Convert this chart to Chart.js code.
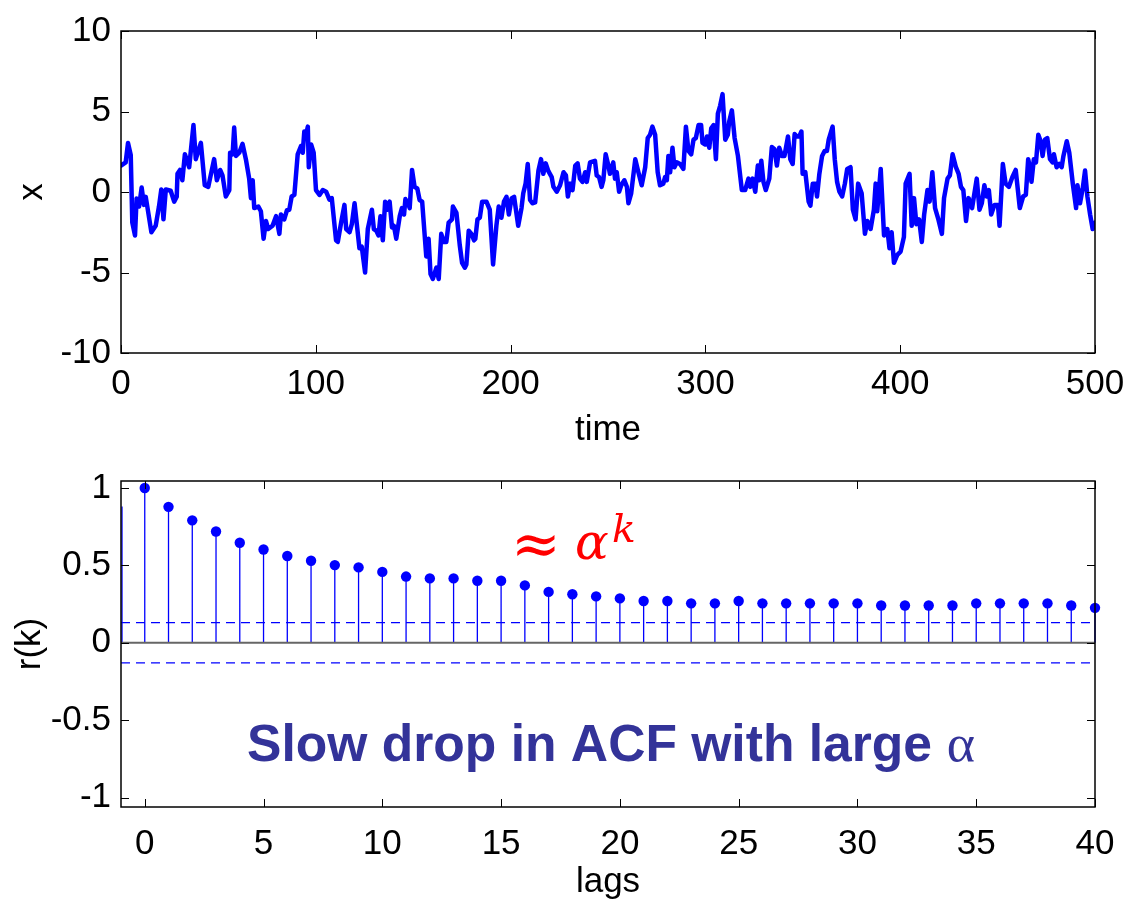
<!DOCTYPE html>
<html>
<head>
<meta charset="utf-8">
<script src="https://cdn.jsdelivr.net/npm/chart.js@4.4.1/dist/chart.umd.min.js"></script>
<style>
  body { margin: 0; background: #fff; }
  #wrap { position: relative; width: 1137px; height: 900px; }
  canvas { position: absolute; left: 0; }
</style>
</head>
<body>
<div id="wrap">
  <canvas id="seriesChart" width="1137" height="450" style="top:0"></canvas>
  <canvas id="acfChart" width="1137" height="450" style="top:450px"></canvas>
</div>
<script>
// time series x(t)
const timeSteps = [0,2.4,3.6,5,5.8,7.2,8,9.3,10.6,11.8,12.7,13.5,15.6,17.8,19.5,20.7,21.8,23,25.5,27.3,28.6,29,30.3,31.5,32.8,35,37.2,38.4,41,43,44.8,47.8,49.2,50.9,52.1,53.8,55.6,56,57.3,58.1,59,60.7,62.4,64.1,65.8,66.7,67.6,68.4,70.5,71.8,73.2,74.4,75.6,77.8,79.6,81.3,82.1,83.8,85.2,86.4,87.6,89,90.7,92.4,93.3,94.1,95,95.9,96.4,97.6,98.9,100.1,101.9,103.6,105.3,107,108.2,110.4,111.3,113,114.7,115.6,117.3,118.5,119.9,
  122.4,123.6,125.3,126.7,128.8,129.8,131,132.2,133.2,134.4,135.6,136.7,137.9,139.1,140.1,141.3,143.1,144.2,145.3,146,147.3,148.2,149.4,150.7,152.1,153.3,154.6,156.7,157.9,158.9,160.1,161.9,163.1,164.4,165.8,167,168.2,169.9,170.4,172.2,173.9,175.1,176.5,177.3,178.5,179.9,181.2,181.9,183,184.2,185.4,187.6,189.3,190.1,191,192.7,193.9,195.3,196.6,197.9,199.1,200.5,201.8,203.9,205.6,206.5,207.7,208.8,210,211.2,212.6,214.3,215.6,216.8,218,219.4,221.1,222,223.7,225.4,227.2,228.4,229.4,230.6,231.8,233.2,234.4,235.6,236.9,238.3,239.1,240.8,
  243.3,244.2,245.4,246.7,247.6,248.8,250.2,251,252.7,253.6,254.5,255.7,256.8,258.4,259.7,260.5,261.9,264,265.6,267.3,269.1,270.4,271.6,272.8,274.2,275.5,276.7,278.4,279.3,280.2,281,281.9,283.1,284.1,285.3,287,288.7,290,291.3,292.7,293.9,295.1,296.5,297.8,298.5,299.9,300.8,302,303,304.2,305.4,306.4,307.6,308.8,310.2,311.5,312.2,313.6,315,316.7,318.7,320.4,322.1,323,324.2,325.6,326.9,327.6,328.7,329.8,331,332.8,334.1,335.5,336.7,337.9,339.3,340.6,342.4,343.6,344.8,345.8,347,348.2,349.3,349.9,351.3,353,353.9,355.1,356.5,357.3,358.5,359.9,361.2,362.4,363.3,365.3,366.4,367.6,368.8,370.2,
  371.6,372.8,374.5,375.7,377.1,378.4,380.2,381.9,383.1,384.8,386.5,387.4,388.2,390,391.7,393.4,394.5,395.6,396.8,398.5,400.2,401.9,402.8,404.8,405.9,407.1,408.3,409.7,411.1,412.3,414,415.1,416.5,417.9,419.6,421.4,422.5,424.3,425.5,426.9,428.6,430,431.2,432.4,433.8,435.1,436.9,439.3,440.7,441.9,443.2,444.4,445.5,446.7,448.4,450.2,451,452.7,454.1,455.8,457.6,459.3,461.4,463.1,464.5,465.7,466.6,467.4,468.6,469.7,470.9,472.1,473.1,474.3,475.5,476.9,478.2,478.9,480.3,481.7,482.9,483.8,485.5,486.8,488.6,490.3,491,492.3,493.7,494.9,496.1,497.5,498.8,500];
const xSeries = [1.64,1.84,3.05,2.3,-1.9,-2.7,-0.4,-0.9,0.28,-0.8,-0.3,-0.9,-2.5,-2.1,-0.9,0.16,-1.7,0.16,0.08,-0.6,-0.3,1.13,1.37,0.73,2.34,1.54,4.16,2.04,3.05,0.42,0.32,2.04,0.73,1.37,1.03,-0.28,0.12,2.44,2.34,4.0,2.24,2.44,2.99,2.04,0.83,-0.38,0.73,-1.0,-0.9,-1.2,-2.9,-1.8,-2.3,-2.1,-1.5,-2.6,-1.4,-1.7,-1.13,-1.1,-0.28,-0.18,2.34,2.85,2.44,3.76,3.56,4.06,1.54,2.95,2.44,0.12,-0.18,0.12,0.02,-0.48,-0.38,-3.0,-3.1,-1.9,-0.8,-2.3,-2.5,-2.0,-0.7,
  -3.5,-3.4,-5.0,-2.3,-1.1,-2.3,-2.4,-2.7,-1.5,-3.0,-0.6,-1.1,-0.6,-2.2,-2.1,-2.9,-1.5,-1.0,-1.4,-0.44,-0.7,-1.0,1.37,0.32,0.22,-0.5,-0.6,-4.0,-2.9,-5.1,-5.4,-4.7,-5.4,-2.6,-3.1,-3.1,-1.9,-1.7,-0.9,-1.3,-3.3,-4.4,-4.7,-4.5,-2.4,-2.6,-3.0,-2.9,-1.7,-1.6,-0.6,-0.6,-1.1,-2.7,-4.5,-2.1,-0.9,-1.6,-0.6,-0.3,-1.4,-0.4,-0.3,-2.1,-1.0,-0.08,0.52,1.74,-0.5,-0.7,-0.65,1.33,2.04,1.13,1.78,1.29,0.93,0.32,0.02,0.42,1.23,1.03,-0.28,0.52,0.12,1.64,1.78,0.83,0.63,1.23,0.63,1.84,
  1.94,1.03,0.93,0.32,0.73,2.34,1.64,1.13,1.84,0.83,1.23,0.02,0.42,0.73,0.32,-0.7,-0.08,2.04,1.23,0.42,1.54,3.35,3.56,4.06,3.56,1.23,0.42,0.52,0.93,0.73,2.24,1.23,2.75,1.54,1.84,1.74,1.43,4.06,2.55,2.34,3.25,3.35,4.16,4.16,3.05,2.95,3.45,2.75,3.96,4.16,2.04,4.87,5.37,6.08,3.25,3.56,4.36,5.07,3.35,2.24,0.12,0.12,0.83,0.32,0.83,0.02,1.64,0.73,1.94,0.63,0.12,0.83,2.79,2.65,1.64,2.75,2.24,2.24,3.45,2.04,1.74,3.6,3.45,3.45,3.76,1.13,1.23,-0.6,-0.85,0.52,0.52,-0.28,1.13,2.24,2.55,2.55,3.25,4.06,2.04,0.63,0.02,-0.28,
  0.52,1.43,1.54,-1.1,-1.7,0.52,-0.08,-2.6,-1.8,-2.3,-1.1,0.52,-1.2,1.43,-2.7,-2.3,-3.5,-2.5,-4.4,-3.9,-3.7,-2.8,0.52,1.13,-2.1,-0.38,-2.0,-1.7,-3.1,-1.4,0.12,-0.6,1.23,-1.0,-1.7,-2.6,-0.38,0.83,1.03,2.34,1.54,1.13,0.32,0.12,-1.8,-0.38,-1.0,0.83,-1.1,-0.7,0.42,-0.28,0.12,-1.4,-0.8,-0.8,-2.1,1.74,0.52,0.32,0.93,1.37,-1.0,-0.28,-0.18,2.04,1.54,0.63,2.04,1.84,3.56,3.15,2.24,3.25,3.35,2.04,1.84,2.34,1.54,1.74,1.54,2.24,3.15,2.44,0.52,-1.0,0.42,-0.7,0.22,1.33,-0.28,-1.4,-2.3,-1.9];
const timeTicks = [0, 100, 200, 300, 400, 500];
const xTicks = [-10, -5, 0, 5, 10];

// sample autocorrelation r(k); the lag -1 stem sits on the left edge
const lags = [-1,0,1,2,3,4,5,6,7,8,9,10,11,12,13,14,15,16,17,18,19,20,21,22,23,24,25,26,27,28,29,30,31,32,33,34,35,36,37,38,39,40];
const acf = [0.88,1.0,0.878,0.791,0.719,0.646,0.603,0.561,0.530,0.502,0.487,0.458,0.428,0.416,0.416,0.401,0.401,0.371,0.329,0.314,0.300,0.287,0.270,0.270,0.255,0.255,0.270,0.255,0.255,0.255,0.255,0.255,0.241,0.241,0.241,0.241,0.255,0.255,0.255,0.255,0.241,0.226];
const confBound = 0.13;
const lagTicks = [0, 5, 10, 15, 20, 25, 30, 35, 40];
const acfTicks = [-1, -0.5, 0, 0.5, 1];

const FONT = "'Liberation Sans', Arial, sans-serif";
const tickFont = { family: FONT, size: 35 };
const BLUE = '#0000ff';

function fixTicks(values) {
  return scale => { scale.ticks = values.map(v => ({ value: v })); };
}

// MATLAB-style box with inward ticks on all four sides
const framePlugin = {
  id: 'frame',
  afterDraw(chart) {
    const { ctx, chartArea: a, scales } = chart;
    const tl = 8;
    ctx.save();
    ctx.strokeStyle = '#000';
    ctx.lineWidth = 1;
    ctx.beginPath();
    scales.x.ticks.forEach(t => {
      const px = Math.round(scales.x.getPixelForValue(t.value)) + 0.5;
      ctx.moveTo(px, a.bottom); ctx.lineTo(px, a.bottom - tl);
      ctx.moveTo(px, a.top); ctx.lineTo(px, a.top + tl);
    });
    scales.y.ticks.forEach(t => {
      const py = Math.round(scales.y.getPixelForValue(t.value)) + 0.5;
      ctx.moveTo(a.left, py); ctx.lineTo(a.left + tl, py);
      ctx.moveTo(a.right, py); ctx.lineTo(a.right - tl, py);
    });
    ctx.stroke();
    ctx.lineWidth = 1.5;
    ctx.strokeRect(a.left, a.top, a.right - a.left, a.bottom - a.top);
    ctx.restore();
  }
};

// stems from the zero line up to each r(k)
const stemPlugin = {
  id: 'stems',
  beforeDatasetsDraw(chart) {
    const { ctx, chartArea: a, scales: { x, y } } = chart;
    const y0 = y.getPixelForValue(0);
    ctx.save();
    ctx.strokeStyle = BLUE;
    ctx.lineWidth = 1.3;
    ctx.beginPath();
    lags.forEach((k, i) => {
      const px = Math.max(x.getPixelForValue(k), a.left + 1);
      ctx.moveTo(px, y0);
      ctx.lineTo(px, y.getPixelForValue(acf[i]));
    });
    ctx.stroke();
    ctx.strokeStyle = '#666';
    ctx.lineWidth = 2;
    ctx.beginPath();
    ctx.moveTo(a.left, y0);
    ctx.lineTo(a.right, y0);
    ctx.stroke();
    ctx.restore();
  }
};

// draw a glyph so that its ink box spans [left, left+width] and has its bottom at y
function glyphFit(ctx, text, style, left, width, bottom) {
  ctx.font = style.replace('SIZE', '100px');
  const w = ctx.measureText(text).actualBoundingBoxRight + ctx.measureText(text).actualBoundingBoxLeft;
  const size = 100 * width / w;
  ctx.font = style.replace('SIZE', size.toFixed(1) + 'px');
  const m = ctx.measureText(text);
  ctx.fillText(text, left + m.actualBoundingBoxLeft, bottom - m.actualBoundingBoxDescent);
}

const notePlugin = {
  id: 'notes',
  afterDraw(chart) {
    const ctx = chart.ctx;
    ctx.save();
    ctx.textBaseline = 'alphabetic';
    ctx.fillStyle = '#ff0000';
    glyphFit(ctx, '\u2248', "SIZE 'DejaVu Serif'", 517, 38, 107);
    glyphFit(ctx, '\u03b1', "italic SIZE 'DejaVu Serif'", 577, 31, 110);
    glyphFit(ctx, 'k', "italic SIZE 'DejaVu Serif'", 613, 20, 92);

    const main = 'Slow drop in ACF with large ';
    ctx.fillStyle = '#333399';
    ctx.font = 'bold 48px ' + FONT;
    const w1 = ctx.measureText(main).width;
    ctx.font = "50px 'Liberation Serif'";
    const w2 = ctx.measureText('\u03b1').width;
    const k = 728 / (w1 + w2);
    const x0 = 247;
    ctx.font = 'bold ' + (48 * k).toFixed(1) + 'px ' + FONT;
    ctx.fillText(main, x0, 311);
    ctx.font = (50 * k).toFixed(1) + "px 'Liberation Serif'";
    ctx.fillText('\u03b1', x0 + w1 * k, 311);
    ctx.restore();
  }
};

function axisTitle(text, pad) {
  return { display: true, text: text, color: '#000', font: { family: FONT, size: 35 }, padding: pad };
}

new Chart(document.getElementById('seriesChart'), {
  type: 'line',
  data: {
    datasets: [{
      data: timeSteps.map((t, i) => ({ x: t, y: xSeries[i] })),
      borderColor: BLUE,
      borderWidth: 4.5,
      borderJoinStyle: 'round',
      borderCapStyle: 'round',
      pointRadius: 0,
      tension: 0
    }]
  },
  options: {
    responsive: false,
    animation: false,
    devicePixelRatio: 1,
    layout: { padding: { top: 24, right: 42, left: 0, bottom: 0 } },
    plugins: { legend: { display: false }, tooltip: { enabled: false } },
    scales: {
      x: {
        type: 'linear', min: 0, max: 500,
        afterBuildTicks: fixTicks(timeTicks),
        afterFit: s => { s.height = 97; },
        grid: { display: false, drawTicks: false },
        border: { display: false },
        ticks: { font: tickFont, color: '#000', padding: 10, maxRotation: 0 },
        title: axisTitle('time', { top: 0, bottom: -1 })
      },
      y: {
        min: -10, max: 10,
        afterBuildTicks: fixTicks(xTicks),
        afterFit: s => { s.width = 121; },
        grid: { display: false, drawTicks: false },
        border: { display: false },
        ticks: { font: tickFont, color: '#000', padding: 10 },
        title: axisTitle('x', { top: 11, bottom: 0 })
      }
    }
  },
  plugins: [framePlugin]
});

new Chart(document.getElementById('acfChart'), {
  type: 'scatter',
  data: {
    datasets: [{
      data: lags.map((k, i) => ({ x: k, y: acf[i] })),
      backgroundColor: BLUE,
      borderColor: BLUE,
      pointRadius: lags.map(k => (k < 0 ? 0 : 5.2)),
      pointBorderWidth: 0,
      clip: false
    }, {
      type: 'line',
      data: [{ x: -1, y: confBound }, { x: 40, y: confBound }],
      borderColor: BLUE, borderWidth: 1.2, borderDash: [9, 6], pointRadius: 0
    }, {
      type: 'line',
      data: [{ x: -1, y: -confBound }, { x: 40, y: -confBound }],
      borderColor: BLUE, borderWidth: 1.2, borderDash: [9, 6], pointRadius: 0
    }]
  },
  options: {
    responsive: false,
    animation: false,
    devicePixelRatio: 1,
    layout: { padding: { top: 25, right: 42, left: 0, bottom: 0 } },
    plugins: { legend: { display: false }, tooltip: { enabled: false } },
    scales: {
      x: {
        type: 'linear', min: -1, max: 40,
        afterBuildTicks: fixTicks(lagTicks),
        afterFit: s => { s.height = 93; },
        grid: { display: false, drawTicks: false },
        border: { display: false },
        ticks: { font: tickFont, color: '#000', padding: 16, maxRotation: 0 },
        title: axisTitle('lags', { top: 0, bottom: -3 })
      },
      y: {
        min: -1.06, max: 1.045,
        afterBuildTicks: fixTicks(acfTicks),
        afterFit: s => { s.width = 121; },
        grid: { display: false, drawTicks: false },
        border: { display: false },
        ticks: { font: tickFont, color: '#000', padding: 10, callback: v => String(v) },
        title: axisTitle('r(k)', { top: 9, bottom: 0 })
      }
    }
  },
  plugins: [stemPlugin, framePlugin, notePlugin]
});
</script>
</body>
</html>
